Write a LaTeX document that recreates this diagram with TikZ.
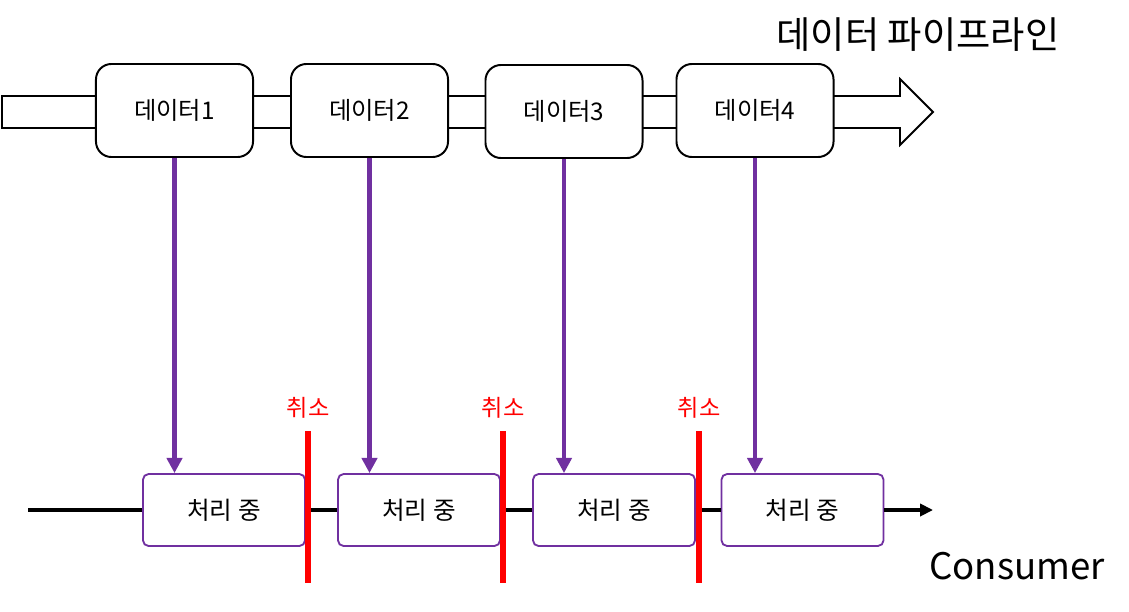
\documentclass[tikz,border=0pt]{standalone}
\usepackage{fontspec}
\setmainfont{Noto Sans CJK KR}
\usetikzlibrary{arrows.meta,positioning}
\definecolor{Plum}{HTML}{7030A0}
\definecolor{Alert}{HTML}{FF0000}

\begin{document}
\begin{tikzpicture}[x=0.025cm, y=-0.025cm, every node/.style={align=center},
    datum/.style={draw=black, line width=1.4pt, fill=white, rounded corners=11pt, minimum width=3.925cm, minimum height=2.325cm, font=\fontsize{17.3}{20}\selectfont},
    task/.style={draw=Plum, line width=1.3pt, fill=white, rounded corners=4pt, minimum width=4.05cm, minimum height=1.8cm, font=\fontsize{17.5}{20}\selectfont},
    cancel/.style={text=Alert, font=\fontsize{16.5}{19}\selectfont}]
  \useasboundingbox (0,0) rectangle (1129,611);

  % pipeline band
  \draw[line width=1.3pt, fill=white] (2,96) -- (900,96) -- (900,79) -- (933,112) -- (900,145) -- (900,128) -- (2,128) -- cycle;
  \node[font=\fontsize{26.5}{30}\selectfont] (title) at (918,35) {데이터 파이프라인};

  \node[datum] (d1) at (174.5,110.5) {데이터1};
  \node[datum] (d2) at (369.5,110.5) {데이터2};
  \node[datum] (d3) at (564,111.5) {데이터3};
  \node[datum] (d4) at (755,110.5) {데이터4};

  \node[task] (p1) at (224,510) {처리 중};
  \node[task] (p2) at (419,510) {처리 중};
  \node[task] (p3) at (614,510) {처리 중};
  \node[task] (p4) at (802.5,510) {처리 중};

  \draw[-{Triangle[length=3.8mm,width=3.8mm]}, line width=3.4pt, Plum] (d1) -- (d1 |- p1.north);
  \draw[-{Triangle[length=3.8mm,width=3.8mm]}, line width=3.4pt, Plum] (d2) -- (d2 |- p2.north);
  \draw[-{Triangle[length=3.8mm,width=3.8mm]}, line width=3.4pt, Plum] (d3) -- (d3 |- p3.north);
  \draw[-{Triangle[length=3.8mm,width=3.8mm]}, line width=3.4pt, Plum] (d4) -- (d4 |- p4.north);

  % consumer line
  \coordinate (start) at (28,510);
  \coordinate (finish) at (933,510);
  \draw[line width=2.8pt] (start) -- (p1.west);
  \draw[line width=2.8pt] (p1.east) -- (p2.west);
  \draw[line width=2.8pt] (p2.east) -- (p3.west);
  \draw[line width=2.8pt] (p3.east) -- (p4.west);
  \draw[line width=2.8pt, -{Triangle[length=3.2mm,width=3mm]}] (p4.east) -- (finish);
  \node[font=\fontsize{26}{30}\selectfont] (consumer) at (1017,566) {Consumer};

  % cancel marks
  \foreach \x [count=\i] in {308,503,699} {
    \coordinate (c\i top) at (\x,431);
    \coordinate (c\i bot) at (\x,583);
    \draw[Alert, line width=4.3pt] (c\i top) -- (c\i bot);
    \node[cancel, above=0.2cm of c\i top] (lbl\i) {취소};
  }
\end{tikzpicture}
\end{document}
